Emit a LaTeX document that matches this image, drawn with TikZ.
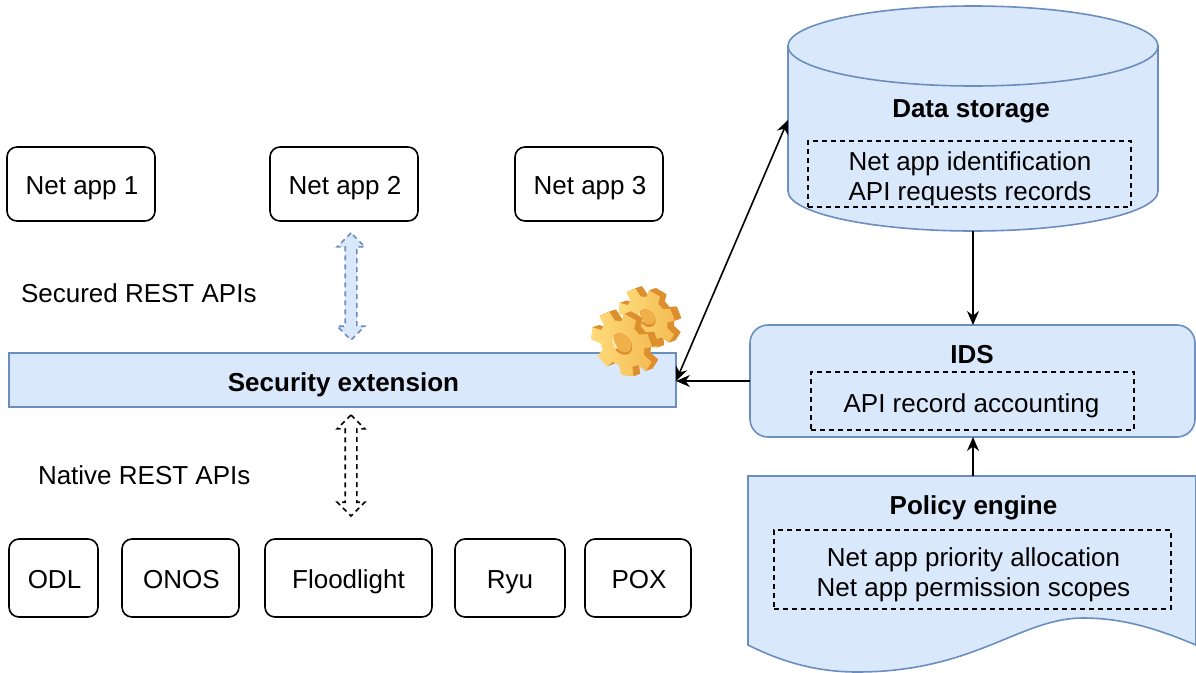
\documentclass[tikz,border=0pt]{standalone}
\usepackage{fontspec}
\setmainfont{Liberation Sans}
\usetikzlibrary{arrows.meta,shapes.arrows}
\definecolor{bfill}{HTML}{DAE8FC}
\definecolor{bline}{HTML}{6C8EBF}
\definecolor{gfront}{HTML}{FFDB7A}
\definecolor{gmid}{HTML}{F4BC55}
\definecolor{gdark}{HTML}{DD8F2E}
\definecolor{ghole}{HTML}{F0B04A}
\newcommand{\gearoutline}[2]{%
  (0:#2)
  \foreach \i in {0,51.43,...,308.6} {
    -- ({\i+8}:#2) -- ({\i+14}:#1) -- ({\i+37}:#1) -- ({\i+43}:#2)
  } -- cycle}
\newcommand{\drawgear}[6]{%
  \begin{scope}[shift={(#1,#2)},rotate=#3,xscale=.74]
    \foreach \d in {10,9,...,1} {
      \fill[gdark,shift={(\d*.9,\d*.25)}] \gearoutline{#4}{#5};
    }
    \shade[left color=gfront,right color=gmid] \gearoutline{#4}{#5};
    \fill[gdark] (0,0) circle (#6);
    \fill[ghole] (1.5,-.5) circle (#6-1.5);
    \fill[gfront!70!white] (-#6,0) arc (180:300:#6) arc (300:180:#6*.75 and #6) -- cycle;
  \end{scope}}
\tikzset{
  every node/.style={font=\fontsize{26}{30}\selectfont,inner sep=0pt,outer sep=0pt},
  appbox/.style={draw=black,line width=1.6pt,rounded corners=10pt,fill=white,align=center,text height=20pt,text depth=0pt},
  bluebox/.style={draw=bline,fill=bfill,line width=1.6pt},
  dashbox/.style={draw=black,dash pattern=on 5pt off 4pt,line width=1.6pt,align=center},
  head/.style={font=\fontsize{26}{30}\selectfont\bfseries},
  link/.style={draw=black,line width=1.6pt,-{Stealth[length=14pt,width=12pt]}},
  twolink/.style={draw=black,line width=1.6pt,{Stealth[length=14pt,width=12pt]}-{Stealth[length=14pt,width=12pt]}},
  flowarrow/.style={double arrow,rotate=90,draw=#1,dash pattern=on 5pt off 4pt,line width=1.6pt,
    inner ysep=5pt,minimum width=26pt,double arrow head extend=8pt,double arrow head indent=0pt},
  lbl/.style={anchor=west}
}
\begin{document}
\begin{tikzpicture}[x=1pt,y=-1pt]
\useasboundingbox (0,0) rectangle (1196,672);
% Net apps
\node[appbox,minimum width=148pt,minimum height=74pt] (app1) at (81,184) {\hspace*{2pt}Net app 1};
\node[appbox,minimum width=148pt,minimum height=74pt] (app2) at (344,184) {\hspace*{2pt}Net app 2};
\node[appbox,minimum width=148pt,minimum height=74pt] (app3) at (589,184) {\hspace*{2pt}Net app 3};
% Labels
\node[lbl] (sec) at (21,293) {Secured REST APIs};
\node[lbl] (nat) at (38,475) {Native REST APIs};
% Security extension
\node[bluebox,minimum width=667pt,minimum height=54pt] (ext) at (342.5,380) {};
\node[head] (extt) at (343.5,385) {Security extension};
% Controllers
\node[appbox,minimum width=89pt,minimum height=78pt] (odl) at (53.5,578) {\hspace*{2pt}ODL};
\node[appbox,minimum width=117pt,minimum height=78pt] (onos) at (180.5,578) {\hspace*{2pt}ONOS};
\node[appbox,minimum width=167pt,minimum height=78pt] (fl) at (348.5,578) {Floodlight};
\node[appbox,minimum width=110pt,minimum height=78pt] (ryu) at (510,578) {Ryu};
\node[appbox,minimum width=106pt,minimum height=78pt] (pox) at (638,578) {\hspace*{2pt}POX};
% Hollow arrows
\node[flowarrow=bline,fill=bfill,minimum height=107pt] (secarrow) at (351,286.5) {};
\node[flowarrow=black,fill=white,minimum height=101pt] (natarrow) at (351,465.5) {};
% Cylinder
\coordinate (cylleft) at (788,120);
\coordinate (cylbot) at (973,231);
\path[bluebox] (788,46) -- (788,191) arc (180:0:185 and 40) -- (1158,46) -- cycle;
\draw[bluebox] (973,46) ellipse (185 and 40);
\node[head] (dst) at (971,111) {Data storage};
\node[dashbox,minimum width=323pt,minimum height=66pt] (dsb) at (969.5,174) {};
\node (d1) at (970,163.5) {Net app identification};
\node (d2) at (970,194) {API requests records};
% IDS
\node[bluebox,rounded corners=18pt,minimum width=445pt,minimum height=112pt] (ids) at (972.5,381) {};
\node[head] (idst) at (972,355) {IDS};
\node[dashbox,minimum width=323pt,minimum height=58pt] (idb) at (972.5,401) {};
\node (i1) at (971.5,406) {API record accounting};
% Policy engine
\coordinate (poltop) at (973,476);
\path[bluebox] (748,476) -- (1196,476) -- (1196,645)
  .. controls (1160,630) and (1125,618) .. (1083,618)
  .. controls (1020,618) and (975,672) .. (857,672)
  .. controls (815,672) and (780,661) .. (748,645) -- cycle;
\node[head] (polt) at (973.5,508) {Policy engine};
\node[dashbox,minimum width=397pt,minimum height=79pt] (pob) at (972.5,569.5) {};
\node (p1) at (973.5,559.5) {Net app priority allocation};
\node (p2) at (973.5,589.5) {Net app permission scopes};
% Gears
\drawgear{647}{318}{40}{33}{24}{10}
\drawgear{622}{344}{40}{36}{26}{12}
% Connectors
\coordinate (extr) at (ext.east |- ids.west);
\draw[twolink] (extr) -- (cylleft);
\draw[link] (cylbot) -- (ids.north -| cylbot);
\draw[link] (ids.west) -- (extr);
\draw[link] (poltop) -- (ids.south -| poltop);
\end{tikzpicture}
\end{document}
